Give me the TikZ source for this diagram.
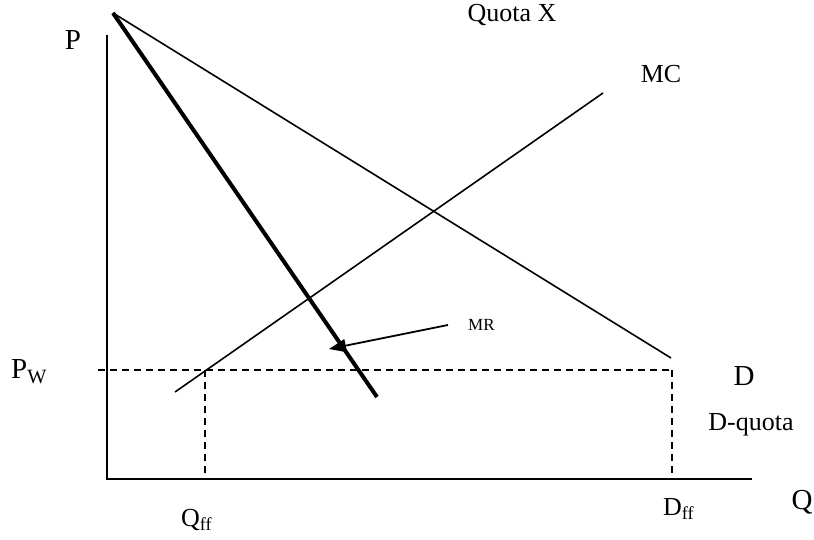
\documentclass[tikz,border=0pt]{standalone}
\usepackage{fontspec}
\setmainfont{Liberation Serif}
\usetikzlibrary{arrows.meta}
\begin{document}
\begin{tikzpicture}[x=1pt,y=-1pt,
  thinline/.style={line width=1.6pt},
  axisline/.style={line width=1.8pt},
  mrline/.style={line width=4pt},
  dashline/.style={line width=1.6pt,dash pattern=on 7pt off 5pt},
  lbl/.style={inner sep=0pt,font=\fontsize{26}{28}\selectfont},
  biglbl/.style={inner sep=0pt,font=\fontsize{29}{31}\selectfont},
  smalllbl/.style={inner sep=0pt,font=\fontsize{17}{19}\selectfont}]
\useasboundingbox (0,0) rectangle (814,540);
% coordinates
\coordinate (ytop) at (107,35);
\coordinate (origin) at (107,479);
\coordinate (xend) at (752,479);
\coordinate (top) at (113,13);
\coordinate (dend) at (671,358);
\coordinate (mrend) at (377,397);
\coordinate (mcstart) at (175,392);
\coordinate (mcend) at (603,93);
\coordinate (pwl) at (98,370);
\coordinate (pwr) at (672,370);
\coordinate (qffh) at (205,370);
\coordinate (qffb) at (205,479);
\coordinate (dffb) at (672,479);
\coordinate (mrfrom) at (448,325);
\coordinate (mrtip) at (329,349);
% axes
\draw[axisline] (ytop) -- (origin) -- (xend);
% curves
\draw[thinline] (top) -- (dend);
\draw[mrline] (top) -- (mrend);
\draw[thinline] (mcstart) -- (mcend);
% dashed lines
\draw[dashline] (pwl) -- (pwr);
\draw[dashline] (qffh) -- (qffb);
\draw[dashline] (pwr) -- (dffb);
% MR arrow
\draw[line width=1.8pt,-{Triangle[length=17pt,width=13pt]}] (mrfrom) -- (mrtip);
% labels
\node[biglbl] (lp) at (73,40) {P};
\node[biglbl,anchor=west] (lpw) at (11,372) {P\textsubscript{W}};
\node[lbl] (lquota) at (512,15) {Quota X};
\node[lbl] (lmc) at (661,74) {MC};
\node[smalllbl,anchor=west] (lmr) at (468,325) {MR};
\node[biglbl] (ld) at (744,376) {D};
\node[lbl] (ldq) at (751,425) {D-quota};
\node[biglbl] (lq) at (802,502) {Q};
\node[lbl,anchor=west] (lqff) at (181,520) {Q\textsubscript{ff}};
\node[lbl,anchor=west] (ldff) at (663,509) {D\textsubscript{ff}};
\end{tikzpicture}
\end{document}
